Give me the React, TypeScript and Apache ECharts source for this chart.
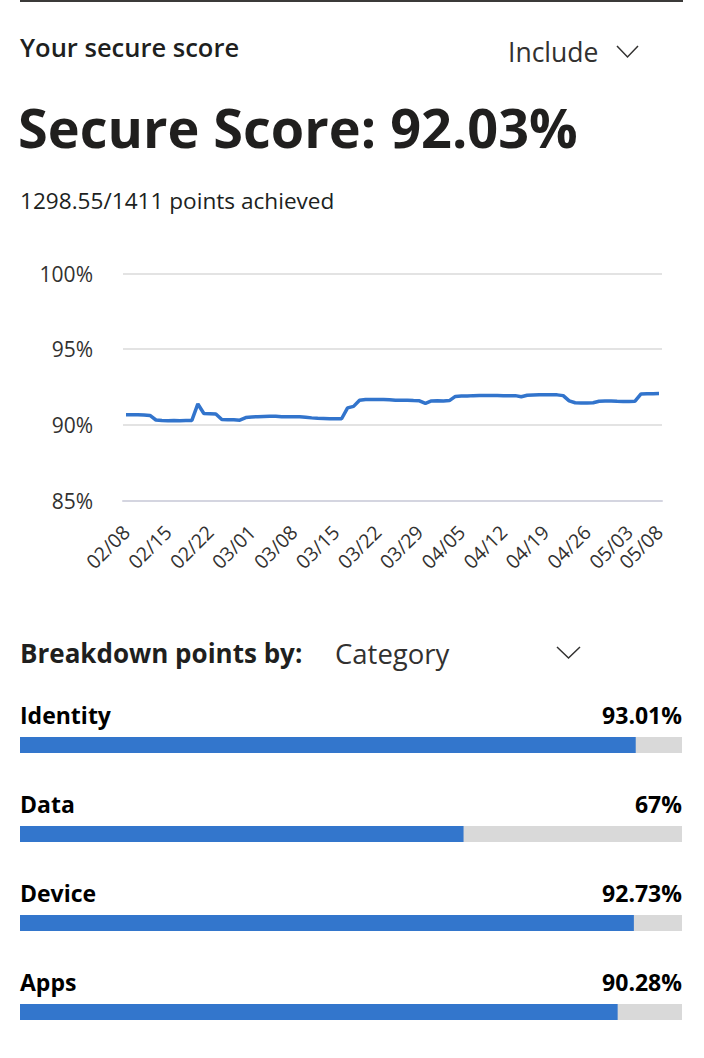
import { useEffect, useRef } from "react";
import * as echarts from "echarts";

// ---- data ----
const startDate = "2021-02-08";
const dayCount = 90;
const scoreHistory = [
  90.66, 90.66, 90.67, 90.65, 90.62, 90.32, 90.28, 90.27, 90.28, 90.27,
  90.28, 90.29, 91.38, 90.75, 90.74, 90.72, 90.35, 90.34, 90.33, 90.31,
  90.48, 90.52, 90.54, 90.55, 90.56, 90.57, 90.54, 90.54, 90.54, 90.53,
  90.5, 90.46, 90.43, 90.42, 90.41, 90.41, 90.4, 91.12, 91.22, 91.62,
  91.67, 91.67, 91.67, 91.67, 91.66, 91.63, 91.62, 91.62, 91.6, 91.59,
  91.42, 91.58, 91.59, 91.58, 91.6, 91.88, 91.9, 91.91, 91.93, 91.94,
  91.94, 91.94, 91.94, 91.93, 91.93, 91.93, 91.86, 91.95, 91.97, 91.98,
  91.98, 91.98, 91.98, 91.93, 91.58, 91.46, 91.44, 91.44, 91.46, 91.56,
  91.57, 91.58, 91.56, 91.55, 91.55, 91.56, 92.04, 92.05, 92.06, 92.07,
];
const yTicks = [85, 90, 95, 100];
const categories = ["Identity", "Data", "Device", "Apps"];
const categoryScores = [93.01, 67, 92.73, 90.28];

const headerTitle = "Your secure score";
const filterLabel = "Include";
const scoreTitle = "Secure Score: 92.03%";
const pointsText = "1298.55/1411 points achieved";
const breakdownLabel = "Breakdown points by:";
const breakdownValue = "Category";

function buildDates(start: string, n: number): string[] {
  const out: string[] = [];
  const d0 = new Date(start + "T00:00:00Z");
  for (let i = 0; i < n; i++) {
    const d = new Date(d0.getTime() + i * 86400000);
    const mm = String(d.getUTCMonth() + 1).padStart(2, "0");
    const dd = String(d.getUTCDate()).padStart(2, "0");
    out.push(`${mm}/${dd}`);
  }
  return out;
}
const dates = buildDates(startDate, dayCount);

const FONT = '"Open Sans", "Noto Sans", sans-serif';

export default function App() {
  const ref = useRef<HTMLDivElement>(null);
  useEffect(() => {
    if (!ref.current) return;
    const chart = echarts.init(ref.current, undefined, { renderer: "svg" });
    const option: any = {
      animation: false,
      textStyle: { fontFamily: FONT },
      graphic: [
        { type: "line", shape: { x1: 20, y1: 1, x2: 683, y2: 1 }, style: { stroke: "#3b3a39", lineWidth: 2 } },
        { type: "text", x: 20, y: 47, style: { text: headerTitle, font: `600 25.5px ${FONT}`, fill: "#201f1e", align: "left", verticalAlign: "middle" } },
        { type: "text", x: 508, y: 52, style: { text: filterLabel, font: `400 26.5px ${FONT}`, fill: "#323130", align: "left", verticalAlign: "middle" } },
        { type: "polyline", shape: { points: [[617, 46], [627.5, 57], [638, 46]] }, style: { stroke: "#323130", lineWidth: 1.5, fill: null } },
        { type: "text", x: 18, y: 127, style: { text: scoreTitle, font: `700 54px ${FONT}`, fill: "#201f1e", align: "left", verticalAlign: "middle" } },
        { type: "text", x: 20, y: 200, style: { text: pointsText, font: `400 22.6px ${FONT}`, fill: "#201f1e", align: "left", verticalAlign: "middle" } },
        { type: "text", x: 20, y: 653, style: { text: breakdownLabel, font: `700 26px ${FONT}`, fill: "#201f1e", align: "left", verticalAlign: "middle" } },
        { type: "text", x: 335, y: 653, style: { text: breakdownValue, font: `400 27.5px ${FONT}`, fill: "#323130", align: "left", verticalAlign: "middle" } },
        { type: "polyline", shape: { points: [[557, 647], [568.5, 658], [580, 647]] }, style: { stroke: "#323130", lineWidth: 1.5, fill: null } },
      ],
      grid: [
        { left: 123, right: 42, top: 273.5, bottom: 1058 - 500.5 },
        { left: 20, right: 22, top: 700.5, height: 356 },
      ],
      xAxis: [
        {
          type: "category",
          gridIndex: 0,
          data: dates,
          boundaryGap: true,
          axisTick: { show: false },
          axisLine: { lineStyle: { color: "#d4d5e0", width: 2 } },
          axisLabel: {
            interval: (i: number) => i % 7 === 0 || i === dayCount - 1,
            rotate: 45,
            margin: 28,
            fontSize: 19.5,
            color: "#323130",
            fontFamily: FONT,
          },
          splitLine: { show: false },
        },
        { type: "value", gridIndex: 1, min: 0, max: 100, show: false },
      ],
      yAxis: [
        {
          type: "value",
          gridIndex: 0,
          min: yTicks[0],
          max: yTicks[yTicks.length - 1],
          interval: 5,
          axisLabel: { formatter: "{value}%", margin: 30, fontSize: 21, color: "#323130", fontFamily: FONT },
          splitLine: { lineStyle: { color: "#e3e3e3", width: 2 } },
          axisLine: { show: false },
          axisTick: { show: false },
        },
        { type: "category", gridIndex: 1, data: categories, inverse: true, show: false },
      ],
      series: [
        {
          type: "line",
          xAxisIndex: 0,
          yAxisIndex: 0,
          data: scoreHistory,
          showSymbol: false,
          symbol: "none",
          lineStyle: { color: "#3274cc", width: 3.5 },
          silent: true,
        },
        {
          type: "bar",
          xAxisIndex: 1,
          yAxisIndex: 1,
          data: categories.map(() => 100),
          barWidth: 16,
          barGap: "-100%",
          itemStyle: { color: "#d9d9d9" },
          silent: true,
          label: {
            show: true,
            position: ["100%", -22],
            align: "right",
            verticalAlign: "middle",
            formatter: (p: any) => `${categoryScores[p.dataIndex]}%`,
            fontSize: 23,
            fontWeight: 700,
            color: "#000",
            fontFamily: FONT,
          },
        },
        {
          type: "bar",
          xAxisIndex: 1,
          yAxisIndex: 1,
          data: categoryScores,
          barWidth: 16,
          barGap: "-100%",
          itemStyle: { color: "#3376cc" },
          silent: true,
          label: {
            show: true,
            position: [0, -22],
            align: "left",
            verticalAlign: "middle",
            formatter: "{b}",
            fontSize: 23,
            fontWeight: 700,
            color: "#000",
            fontFamily: FONT,
          },
        },
      ],
    };
    chart.setOption(option);
    return () => chart.dispose();
  }, []);
  return <div ref={ref} style={{ position: "fixed", left: 0, top: 0, width: 704, height: 1058, background: "#fff" }} />;
}
